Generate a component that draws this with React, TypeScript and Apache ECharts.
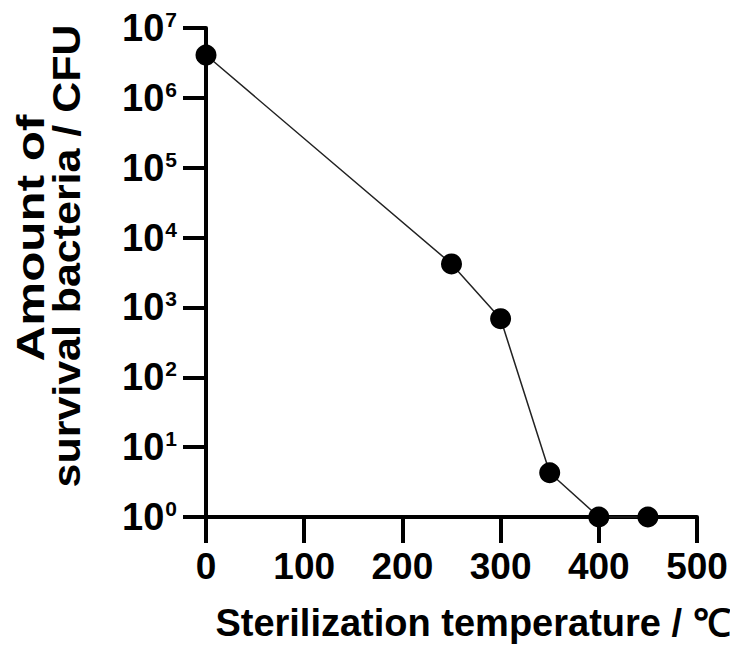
import React, { useEffect, useRef } from "react";
import * as echarts from "echarts";

const temperatures = [0, 250, 300, 350, 400, 450];
const survivalCFU = [4.1e6, 4.2e3, 6.9e2, 4.3, 1, 1];
const xTicks = { min: 0, max: 500, interval: 100 };
const yRange = { min: 1, max: 1e7 };
const xTitle = "Sterilization temperature / ℃";
const yTitleLine1 = "Amount of";
const yTitleLine2 = "survival bacteria / CFU";

const FONT = "'Liberation Sans', Arial, Helvetica, sans-serif";

export default function App() {
  const ref = useRef<HTMLDivElement>(null);
  useEffect(() => {
    if (!ref.current) return;
    const chart = echarts.init(ref.current, null, { renderer: "svg" });
    const data = temperatures.map((t, i) => [t, survivalCFU[i]]);
    chart.setOption({
      animation: false,
      backgroundColor: "#fff",
      grid: { left: 206, right: 41, top: 28, bottom: 137, containLabel: false },
      xAxis: {
        type: "value",
        min: xTicks.min,
        max: xTicks.max,
        interval: xTicks.interval,
        axisLine: { show: true, lineStyle: { color: "#000", width: 4 } },
        axisTick: { show: true, length: 26, lineStyle: { color: "#000", width: 4 } },
        splitLine: { show: false },
        axisLabel: {
          margin: 31,
          color: "#000",
          fontSize: 37,
          fontWeight: "bold",
          fontFamily: FONT,
        },
      },
      yAxis: {
        type: "log",
        logBase: 10,
        min: yRange.min,
        max: yRange.max,
        axisLine: { show: true, lineStyle: { color: "#000", width: 4 } },
        axisTick: { show: true, length: 23, lineStyle: { color: "#000", width: 4 } },
        splitLine: { show: false },
        minorTick: { show: false },
        axisLabel: {
          margin: 29,
          formatter: (v: number) => {
            const e = Math.round(Math.log10(v));
            return "{b|10}{s|" + e + "}";
          },
          rich: {
            b: {
              fontSize: 38,
              fontWeight: "bold",
              fontFamily: FONT,
              color: "#000",
              lineHeight: 38,
            },
            s: {
              fontSize: 21,
              fontWeight: "bold",
              fontFamily: FONT,
              color: "#000",
              verticalAlign: "top",
              lineHeight: 21,
              padding: [0, 0, 12, 1],
            },
          },
        },
      },
      series: [
        {
          type: "line",
          data,
          symbol: "circle",
          symbolSize: 21,
          clip: false,
          itemStyle: { color: "#000" },
          lineStyle: { color: "#222", width: 1.5 },
          z: 5,
        },
      ],
      graphic: [
        {
          type: "text",
          x: 473,
          y: 623,
          style: {
            text: xTitle,
            fontSize: 38,
            fontWeight: "bold",
            fontFamily: FONT,
            fill: "#000",
            align: "center",
            verticalAlign: "middle",
          },
        },
        {
          type: "text",
          x: 31,
          y: 238,
          rotation: Math.PI / 2,
          scaleX: 1.3,
          style: {
            text: yTitleLine1,
            fontSize: 38,
            fontWeight: "bold",
            fontFamily: FONT,
            fill: "#000",
            align: "center",
            verticalAlign: "middle",
          },
        },
        {
          type: "text",
          x: 67,
          y: 256,
          rotation: Math.PI / 2,
          scaleX: 1.13,
          style: {
            text: yTitleLine2,
            fontSize: 38,
            fontWeight: "bold",
            fontFamily: FONT,
            fill: "#000",
            align: "center",
            verticalAlign: "middle",
          },
        },
      ],
    });
    return () => chart.dispose();
  }, []);
  return <div ref={ref} style={{ width: 738, height: 654, margin: -8 }} />;
}
